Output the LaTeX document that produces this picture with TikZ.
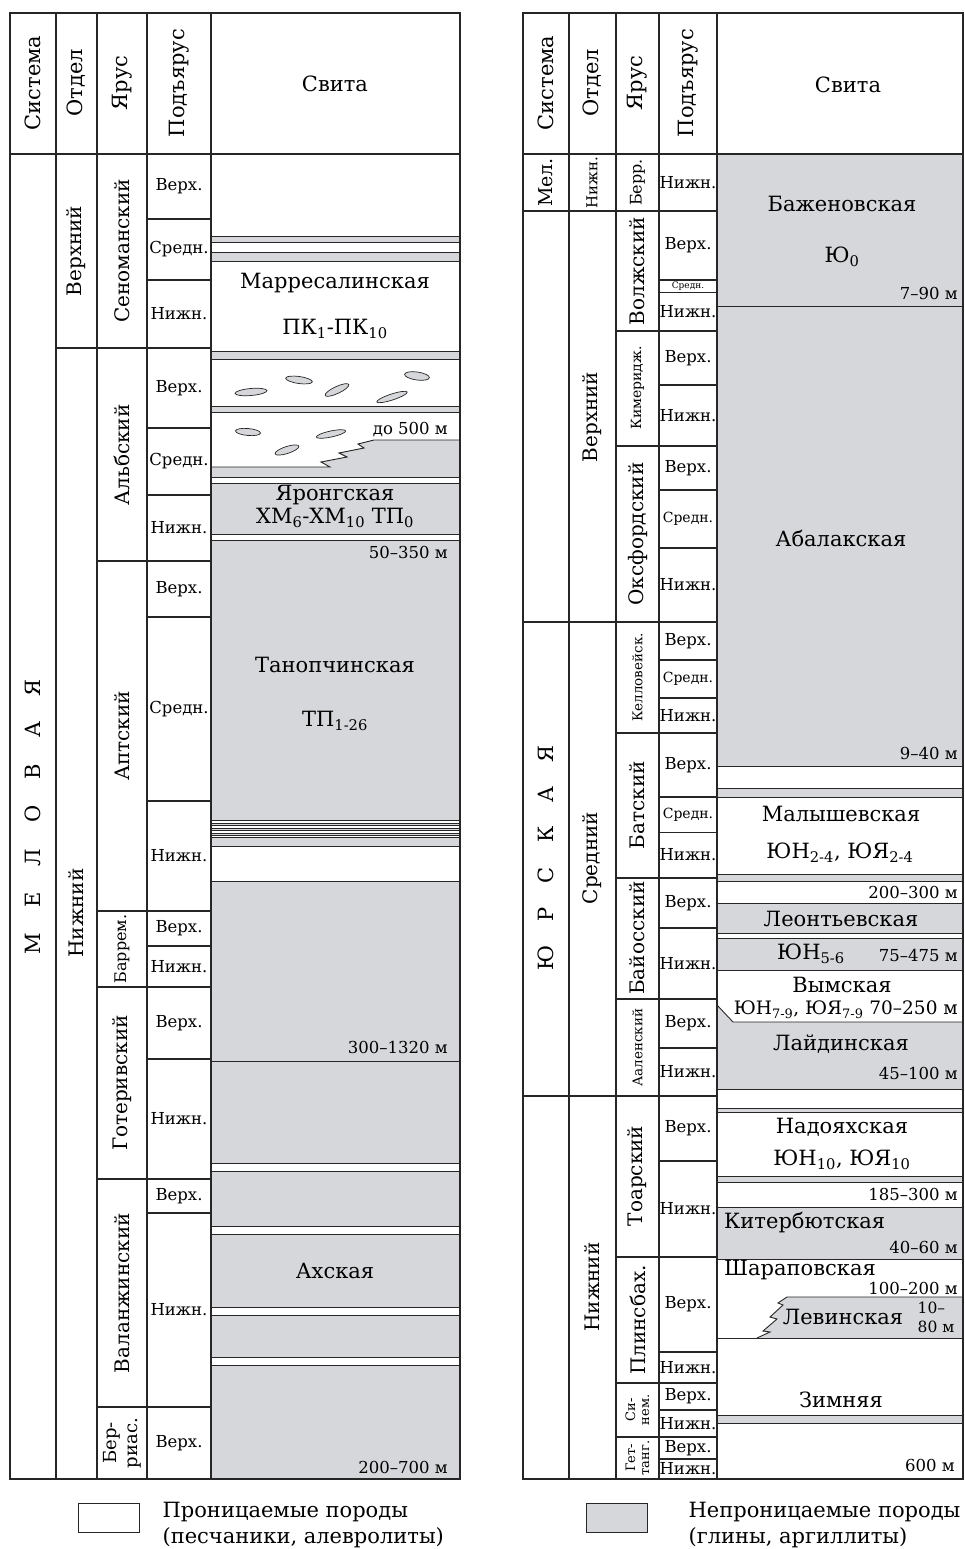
\documentclass[tikz,border=0pt]{standalone}
\usepackage{fontspec}
\setmainfont{DejaVu Serif}
\usepackage{xcolor}
\usepackage{tikz}
\usetikzlibrary{positioning}
\definecolor{clay}{RGB}{214,215,218}
\definecolor{ink}{RGB}{38,38,38}
\newcommand{\fsz}[1]{\fontsize{#1}{#1}\selectfont}
\newcommand{\spc}{\hspace{26pt}}
\newcommand{\spcr}{\hspace{24pt}}
\newcommand{\sub}[1]{\textsubscript{#1}}

\begin{document}
\begin{tikzpicture}[x=1pt, y=-1pt,
  grid/.style={draw=ink, line width=1.2pt},
  bed/.style={draw=ink, line width=0.9pt},
  lens/.style={draw=ink, fill=clay, line width=0.7pt},
  hd/.style={font=\fsz{21}, inner sep=0pt},
  vhd/.style={hd, rotate=90},
  stage/.style={font=\fsz{20}, rotate=90, inner sep=0pt},
  smallstage/.style={stage, font=\fsz{13.5}},
  pair/.style={stage, font=\fontsize{13}{14}\selectfont, align=center},
  substage/.style={font=\fsz{16.5}, inner sep=0pt},
  suite/.style={font=\fsz{21}, inner sep=0pt},
  amount/.style={font=\fsz{16.5}, inner sep=0pt, anchor=east},
  legend/.style={font=\fontsize{21}{26}\selectfont, align=left, inner sep=0pt}]
\useasboundingbox (0,0) rectangle (964,1549);

% left column, beds
\foreach \a/\b in {236/242, 252/261, 351/359, 406.5/412, 483/534, 540/820.5, 823/825.5, 828/830.5, 833/835.5, 837.5/846, 881/1163.5, 1171.5/1226.5, 1234.5/1307.5, 1315/1357.5, 1365/1479}
  \fill[clay] (211,\a) rectangle (460,\b);
\fill[clay] (211,467) -- (330,467) -- (321,462) -- (347,457) -- (339,453) -- (364,448) -- (358,444) -- (374,440) -- (460,440) -- (460,477) -- (211,477) -- cycle;
\foreach \y in {236, 242, 252, 261, 351, 359, 406.5, 412, 477, 483, 534, 540, 820.5, 823, 825.5, 828, 830.5, 833, 835.5, 837.5, 846, 881, 1061, 1163.5, 1171.5, 1226.5, 1234.5, 1307.5, 1315, 1357.5, 1365}
  \draw[bed] (211,\y) -- (460,\y);
\draw[bed] (211,467) -- (330,467) -- (321,462) -- (347,457) -- (339,453) -- (364,448) -- (358,444) -- (374,440) -- (460,440);
\draw[lens, rotate around={5:(251,392)}] (251,392) ellipse [x radius=16, y radius=3.5];
\draw[lens, rotate around={-8:(299,380)}] (299,380) ellipse [x radius=13.5, y radius=3.5];
\draw[lens, rotate around={25:(337,390)}] (337,390) ellipse [x radius=13, y radius=3.5];
\draw[lens, rotate around={18:(392,397)}] (392,397) ellipse [x radius=16, y radius=3];
\draw[lens, rotate around={-8:(417,376)}] (417,376) ellipse [x radius=12.5, y radius=4];
\draw[lens, rotate around={-5:(248,432)}] (248,432) ellipse [x radius=12.5, y radius=3.5];
\draw[lens, rotate around={12:(331,434)}] (331,434) ellipse [x radius=15, y radius=3];
\draw[lens, rotate around={18:(287,450)}] (287,450) ellipse [x radius=12.5, y radius=3.5];

% right column, beds
\foreach \a/\b in {154/766.5, 788.5/797, 874.5/881, 903/933.5, 938.5/970, 1108.5/1112.5, 1176/1182.5, 1207.5/1259.5, 1415/1423.5}
  \fill[clay] (717,\a) rectangle (963,\b);
\fill[clay] (717,1005) -- (733,1022) -- (963,1022) -- (963,1089.5) -- (717,1089.5) -- cycle;
\fill[clay] (787,1297) -- (778,1303) -- (783,1305) -- (770,1317) -- (777,1319) -- (763,1331) -- (770,1332) -- (757,1338) -- (963,1338) -- (963,1297) -- cycle;
\foreach \y in {306, 766.5, 788.5, 797, 874.5, 881, 903, 933.5, 938.5, 970, 1089.5, 1108.5, 1112.5, 1176, 1182.5, 1207.5, 1259.5, 1338, 1415, 1423.5}
  \draw[bed] (717,\y) -- (963,\y);
\draw[bed] (717,1005) -- (733,1022) -- (963,1022);
\draw[bed] (963,1297) -- (787,1297) -- (778,1303) -- (783,1305) -- (770,1317) -- (777,1319) -- (763,1331) -- (770,1332) -- (757,1338);

% grids
\draw[grid] (10,13) rectangle (460,1479);
\foreach \x in {56, 97, 147, 211} \draw[grid] (\x,13) -- (\x,1479);
\draw[grid] (10,154) -- (460,154);
\draw[grid] (56,348) -- (211,348);
\foreach \y in {561, 911, 987, 1179, 1407} \draw[grid] (97,\y) -- (211,\y);
\foreach \y in {219, 280, 428, 495, 617, 801, 946, 1059, 1213} \draw[grid] (147,\y) -- (211,\y);

\draw[grid] (523,13) rectangle (963,1479);
\foreach \x in {569, 616, 659, 717} \draw[grid] (\x,13) -- (\x,1479);
\draw[grid] (523,154) -- (963,154);
\foreach \y in {211, 622, 1096} \draw[grid] (523,\y) -- (717,\y);
\foreach \y in {331, 446, 733, 878, 999, 1257, 1383, 1437} \draw[grid] (616,\y) -- (717,\y);
\foreach \y in {280, 292.3, 385, 490, 548, 660, 698, 797, 832.5, 928, 1048, 1161, 1352, 1410, 1459} \draw[grid] (659,\y) -- (717,\y);

% headers
\node[vhd] (lsys) at (33,83) {Система};
\node[vhd] (lotd) at (76.5,83) {Отдел};
\node[vhd] (lyar) at (122,83) {Ярус};
\node[vhd] (lpod) at (179,83) {Подъярус};
\node[hd] (lsvi) at (335,84) {Свита};
\node[vhd] (rsys) at (546,83) {Система};
\node[vhd] (rotd) at (592,83) {Отдел};
\node[vhd] (ryar) at (637.5,83) {Ярус};
\node[vhd] (rpod) at (688,83) {Подъярус};
\node[hd] (rsvi) at (848,85) {Свита};

% left column, scale
\node[stage, font=\fsz{21}] (mel) at (33,817) {М\spc Е\spc Л\spc О\spc В\spc А\spc Я};
\node[stage] (lup) at (76.5,251) {Верхний};
\node[stage] (llow) at (76.5,913) {Нижний};
\node[stage] (cen) at (122,251) {Сеноманский};
\node[stage] (alb) at (122,455) {Альбский};
\node[stage] (apt) at (122,736) {Аптский};
\node[stage, font=\fsz{16}] (bar) at (122,949) {Баррем.};
\node[stage] (hot) at (122,1083) {Готеривский};
\node[stage] (val) at (122,1293) {Валанжинский};
\node[stage, font=\fontsize{18}{21}\selectfont, align=center] (ber) at (122,1443) {Бер-\\риас.};
\foreach \y/\t [count=\k] in {186.5/Верх., 249.5/Средн., 314/Нижн., 388/Верх., 461.5/Средн., 528/Нижн., 589/Верх., 709/Средн., 856/Нижн., 928.5/Верх., 966.5/Нижн., 1023/Верх., 1118.5/Нижн., 1196/Верх., 1310/Нижн., 1443/Верх.}
  \node[substage] (ls\k) at (179,\y) {\t};

% left column, suites
\node[suite] (mar) at (335,283) {Марресалинская};
\node[suite] (marpk) at (335,329) {ПК\sub{1}-ПК\sub{10}};
\node[amount] (m500) at (448,430) {до 500 м};
\node[suite] (yar) at (335,495) {Яронгская};
\node[suite] (yarhm) at (335,518) {ХМ\sub{6}-ХМ\sub{10} ТП\sub{0}};
\node[amount] (m350) at (448,552) {50--350 м};
\node[suite] (tan) at (335,665) {Танопчинская};
\node[suite] (tantp) at (335,721) {ТП\sub{1-26}};
\node[amount] (m1320) at (448,1047) {300--1320 м};
\node[suite] (akh) at (335,1271) {Ахская};
\node[amount] (m700) at (448,1467) {200--700 м};

% right column, scale
\node[stage, font=\fsz{19}] (rmel) at (546,182.5) {Мел.};
\node[stage, font=\fsz{21}] (yur) at (546,858) {Ю\spcr Р\spcr С\spcr К\spcr А\spcr Я};
\node[stage, font=\fsz{15}] (rlow0) at (592,182.5) {Нижн.};
\node[stage] (rup) at (592,417) {Верхний};
\node[stage] (rmid) at (592,858) {Средний};
\node[stage] (rlow) at (592,1287) {Нижний};
\node[stage, font=\fsz{16}] (berr) at (637.5,182.5) {Берр.};
\node[stage] (volg) at (637.5,271) {Волжский};
\node[smallstage, font=\fsz{14}] (kim) at (637.5,388) {Кимеридж.};
\node[stage] (oxf) at (637.5,534) {Оксфордский};
\node[smallstage] (kel) at (637.5,677.5) {Келловейск.};
\node[stage] (bat) at (637.5,805) {Батский};
\node[stage] (baj) at (637.5,938) {Байосский};
\node[smallstage] (aal) at (637.5,1047.5) {Ааленский};
\node[stage] (toa) at (637.5,1176) {Тоарский};
\node[stage] (pli) at (637.5,1320) {Плинсбах.};
\node[pair] (sin) at (637.5,1410) {Си-\\нем.};
\node[pair] (het) at (637.5,1458) {Гет-\\танг.};
\foreach \y/\t [count=\k] in {182.5/Нижн., 245.5/Верх., 311.5/Нижн., 358/Верх., 415.5/Нижн., 468/Верх., 585/Нижн., 641/Верх., 715.5/Нижн., 765/Верх., 855/Нижн., 903/Верх., 963.5/Нижн., 1023.5/Верх., 1072/Нижн., 1128.5/Верх., 1209/Нижн., 1304.5/Верх., 1367.5/Нижн., 1396.5/Верх., 1423.5/Нижн., 1448/Верх., 1469/Нижн.}
  \node[substage] (rs\k) at (688,\y) {\t};
\foreach \y [count=\k] in {519, 679, 814.5}
  \node[substage, font=\fsz{14}] (rm\k) at (688,\y) {Средн.};
\node[substage, font=\fsz{9}] (rm0) at (688,286) {Средн.};

% right column, suites
\node[suite] (baz) at (842,204) {Баженовская};
\node[suite] (bazyu) at (842,257) {Ю\sub{0}};
\node[amount] (m90) at (958,293) {7--90 м};
\node[suite] (aba) at (841,538) {Абалакская};
\node[amount] (m40) at (958,753) {9--40 м};
\node[suite] (mal) at (841,814) {Малышевская};
\node[suite] (malyu) at (840,853) {ЮН\sub{2-4}, ЮЯ\sub{2-4}};
\node[amount] (m300a) at (958,892) {200--300 м};
\node[suite] (leo) at (841,919) {Леонтьевская};
\node[suite] (leoyu) at (811,954) {ЮН\sub{5-6}};
\node[amount] (m475) at (958,955) {75--475 м};
\node[suite] (vym) at (842,985) {Вымская};
\node[suite, font=\fsz{18.5}, anchor=east] (vymyu) at (958,1010) {ЮН\sub{7-9}, ЮЯ\sub{7-9} 70--250 м};
\node[suite] (lai) at (841,1044) {Лайдинская};
\node[amount] (m100a) at (958,1073) {45--100 м};
\node[suite] (nad) at (842,1127) {Надояхская};
\node[suite] (nadyu) at (842,1160) {ЮН\sub{10}, ЮЯ\sub{10}};
\node[amount] (m300b) at (958,1194) {185--300 м};
\node[suite, anchor=west] (kit) at (724,1223) {Китербютская};
\node[amount] (m60) at (958,1247) {40--60 м};
\node[suite, anchor=west] (sha) at (724,1270) {Шараповская};
\node[amount] (m200) at (958,1288) {100--200 м};
\node[suite] (lev) at (843,1317) {Левинская};
\node[amount, font=\fontsize{15.5}{19}\selectfont, align=left, anchor=center] (m80) at (936,1317) {10--\\80 м};
\node[suite] (zim) at (841,1400) {Зимняя};
\node[amount] (m600) at (955,1465) {600 м};

% legend
\node[draw=ink, line width=0.8pt, minimum width=61pt, minimum height=29pt, inner sep=0pt] (permbox) at (108.5,1517.5) {};
\node[legend, right=23pt of permbox, yshift=-7.5pt] (permtxt) {Проницаемые породы\\(песчаники, алевролиты)};
\node[draw=ink, fill=clay, line width=0.8pt, minimum width=61pt, minimum height=29pt, inner sep=0pt] (sealbox) at (616.5,1517.5) {};
\node[legend, right=41pt of sealbox, yshift=-7.5pt] (sealtxt) {Непроницаемые породы\\(глины, аргиллиты)};
\end{tikzpicture}
\end{document}
